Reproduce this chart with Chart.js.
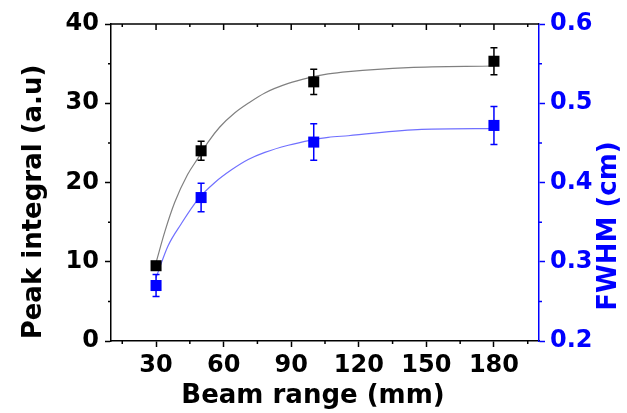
<!DOCTYPE html>
<html>
<head>
<meta charset="utf-8">
<script src="https://cdn.jsdelivr.net/npm/chart.js@4/dist/chart.umd.min.js"></script>
<style>
  html, body { margin: 0; padding: 0; background: #fff; }
  #wrap { width: 627px; height: 413px; }
</style>
</head>
<body>
<div id="wrap"><canvas id="myChart" width="627" height="413"></canvas></div>
<script>
// data
const beamRange = [30, 50, 100, 180];
const peakIntegral = [9.5, 24, 32.7, 35.3];
const peakErr = [0.5, 1.2, 1.6, 1.7];
const fwhm = [0.27, 0.381, 0.451, 0.472];
const fwhmErr = [0.014, 0.018, 0.023, 0.024];

// fitted curves, points
const peakFitX = [30, 33.9, 38.3, 44, 48.7, 53.1, 58.3, 65, 70.9, 78.3, 88.7, 97.6, 106.4, 115.3, 142, 180];
const peakFitY = [9.9, 13.8, 17.5, 21.0, 23.1, 25.1, 27.0, 28.8, 30.0, 31.3, 32.5, 33.2, 33.7, 34.0, 34.5, 34.7];
const fwhmFitX = [30, 35.3, 41.2, 48.7, 56.1, 63.5, 70.9, 78.3, 88.7, 99, 106.4, 115.3, 147.9, 180];
const fwhmFitY = [0.28, 0.32, 0.348, 0.379, 0.4, 0.416, 0.429, 0.438, 0.447, 0.4535, 0.457, 0.459, 0.467, 0.468];

const xTicks = [30, 60, 90, 120, 150, 180];
const xMinor = [15, 45, 75, 105, 135, 165, 195];
const yTicks = [0, 10, 20, 30, 40];
const yMinor = [5, 15, 25, 35];
const y2Ticks = [0.2, 0.3, 0.4, 0.5, 0.6];
const y2Minor = [0.25, 0.35, 0.45, 0.55];

const BLUE = '#0000ff';
const FONT = 'DejaVu Sans';

function pts(xs, ys) {
	return xs.map((x, i) => ({ x: x, y: ys[i] }));
}

// error bars, minor ticks, top axis and titles
const extras = {
	id: 'extras',
	afterDatasetsDraw(chart) {
		const ctx = chart.ctx;
		const xs = chart.scales.x;
		const sets = [
			{ y: peakIntegral, e: peakErr, scale: chart.scales.y, color: '#000' },
			{ y: fwhm, e: fwhmErr, scale: chart.scales.y2, color: BLUE }
		];
		ctx.save();
		ctx.lineWidth = 1.5;
		sets.forEach(s => {
			ctx.strokeStyle = s.color;
			beamRange.forEach((bx, i) => {
				const px = xs.getPixelForValue(bx);
				const top = s.scale.getPixelForValue(s.y[i] + s.e[i]);
				const bot = s.scale.getPixelForValue(s.y[i] - s.e[i]);
				ctx.beginPath();
				ctx.moveTo(px, top); ctx.lineTo(px, bot);
				ctx.moveTo(px - 3.5, top); ctx.lineTo(px + 3.5, top);
				ctx.moveTo(px - 3.5, bot); ctx.lineTo(px + 3.5, bot);
				ctx.stroke();
			});
		});
		ctx.restore();
	},
	afterDraw(chart) {
		const ctx = chart.ctx;
		const a = chart.chartArea;
		const xs = chart.scales.x, ys = chart.scales.y, y2 = chart.scales.y2;
		ctx.save();
		ctx.lineWidth = 1.5;
		// top axis
		ctx.strokeStyle = '#000';
		ctx.beginPath();
		ctx.moveTo(a.left, a.top); ctx.lineTo(a.right, a.top);
		xTicks.forEach(v => { const p = xs.getPixelForValue(v); ctx.moveTo(p, a.top); ctx.lineTo(p, a.top + 6); });
		xMinor.forEach(v => { const p = xs.getPixelForValue(v); ctx.moveTo(p, a.top); ctx.lineTo(p, a.top + 3); });
		// bottom minor
		xMinor.forEach(v => { const p = xs.getPixelForValue(v); ctx.moveTo(p, a.bottom); ctx.lineTo(p, a.bottom + 3); });
		// left minor
		yMinor.forEach(v => { const p = ys.getPixelForValue(v); ctx.moveTo(a.left, p); ctx.lineTo(a.left - 3, p); });
		ctx.stroke();
		// right minor
		ctx.strokeStyle = BLUE;
		ctx.beginPath();
		y2Minor.forEach(v => { const p = y2.getPixelForValue(v); ctx.moveTo(a.right, p); ctx.lineTo(a.right + 3, p); });
		ctx.stroke();

		// axis titles
		ctx.font = 'bold 26px ' + FONT;
		ctx.textAlign = 'center';
		ctx.textBaseline = 'middle';
		ctx.fillStyle = '#000';
		ctx.fillText('Beam range (mm)', 313, 396);
		ctx.save();
		ctx.translate(34, 202);
		ctx.rotate(-Math.PI / 2);
		ctx.fillText('Peak integral (a.u)', 0, 0);
		ctx.restore();
		ctx.save();
		ctx.fillStyle = BLUE;
		ctx.translate(609, 226);
		ctx.rotate(-Math.PI / 2);
		ctx.fillText('FWHM (cm)', 0, 0);
		ctx.restore();
		ctx.restore();
	}
};

const tickFont = { family: FONT, size: 24, weight: 'bold' };

var ctx = document.getElementById('myChart').getContext('2d');
var chart = new Chart(ctx, {
	type: 'scatter',
	data: {
		datasets: [
			{
				data: pts(beamRange, peakIntegral),
				yAxisID: 'y',
				pointStyle: 'rect',
				pointRadius: 7.8,
				backgroundColor: '#000',
				borderColor: '#000',
				borderWidth: 0,
				order: 0
			},
			{
				data: pts(beamRange, fwhm),
				yAxisID: 'y2',
				pointStyle: 'rect',
				pointRadius: 7.8,
				backgroundColor: BLUE,
				borderColor: BLUE,
				borderWidth: 0,
				order: 0
			},
			{
				data: pts(peakFitX, peakFitY),
				yAxisID: 'y',
				showLine: true,
				pointRadius: 0,
				borderColor: '#808080',
				borderWidth: 1.2,
				cubicInterpolationMode: 'monotone',
				order: 1
			},
			{
				data: pts(fwhmFitX, fwhmFitY),
				yAxisID: 'y2',
				showLine: true,
				pointRadius: 0,
				borderColor: '#7070ff',
				borderWidth: 1.2,
				cubicInterpolationMode: 'monotone',
				order: 1
			}
		]
	},
	options: {
		responsive: false,
		animation: false,
		layout: { padding: { top: 24, left: 0, right: 0, bottom: 0 } },
		plugins: { legend: { display: false }, tooltip: { enabled: false } },
		scales: {
			x: {
				type: 'linear',
				position: 'bottom',
				min: 10,
				max: 200,
				afterBuildTicks: s => { s.ticks = xTicks.map(v => ({ value: v })); },
				afterFit: s => { s.height = 72; },
				grid: { drawOnChartArea: false, tickLength: 6, color: '#000', tickWidth: 1.5 },
				border: { display: true, color: '#000', width: 1.5 },
				ticks: { color: '#000', font: tickFont, padding: 4, maxRotation: 0 }
			},
			y: {
				position: 'left',
				min: 0,
				max: 40,
				afterBuildTicks: s => { s.ticks = yTicks.map(v => ({ value: v })); },
				afterFit: s => { s.width = 111; },
				grid: { drawOnChartArea: false, tickLength: 6, color: '#000', tickWidth: 1.5 },
				border: { display: true, color: '#000', width: 1.5 },
				ticks: { color: '#000', font: tickFont, padding: 6 }
			},
			y2: {
				position: 'right',
				min: 0.2,
				max: 0.6,
				afterBuildTicks: s => { s.ticks = y2Ticks.map(v => ({ value: v })); },
				afterFit: s => { s.width = 88; },
				grid: { drawOnChartArea: false, tickLength: 6, color: BLUE, tickWidth: 1.5 },
				border: { display: true, color: BLUE, width: 1.5 },
				ticks: { color: BLUE, font: tickFont, padding: 5, callback: v => v.toFixed(1) }
			}
		}
	},
	plugins: [extras]
});
</script>
</body>
</html>
